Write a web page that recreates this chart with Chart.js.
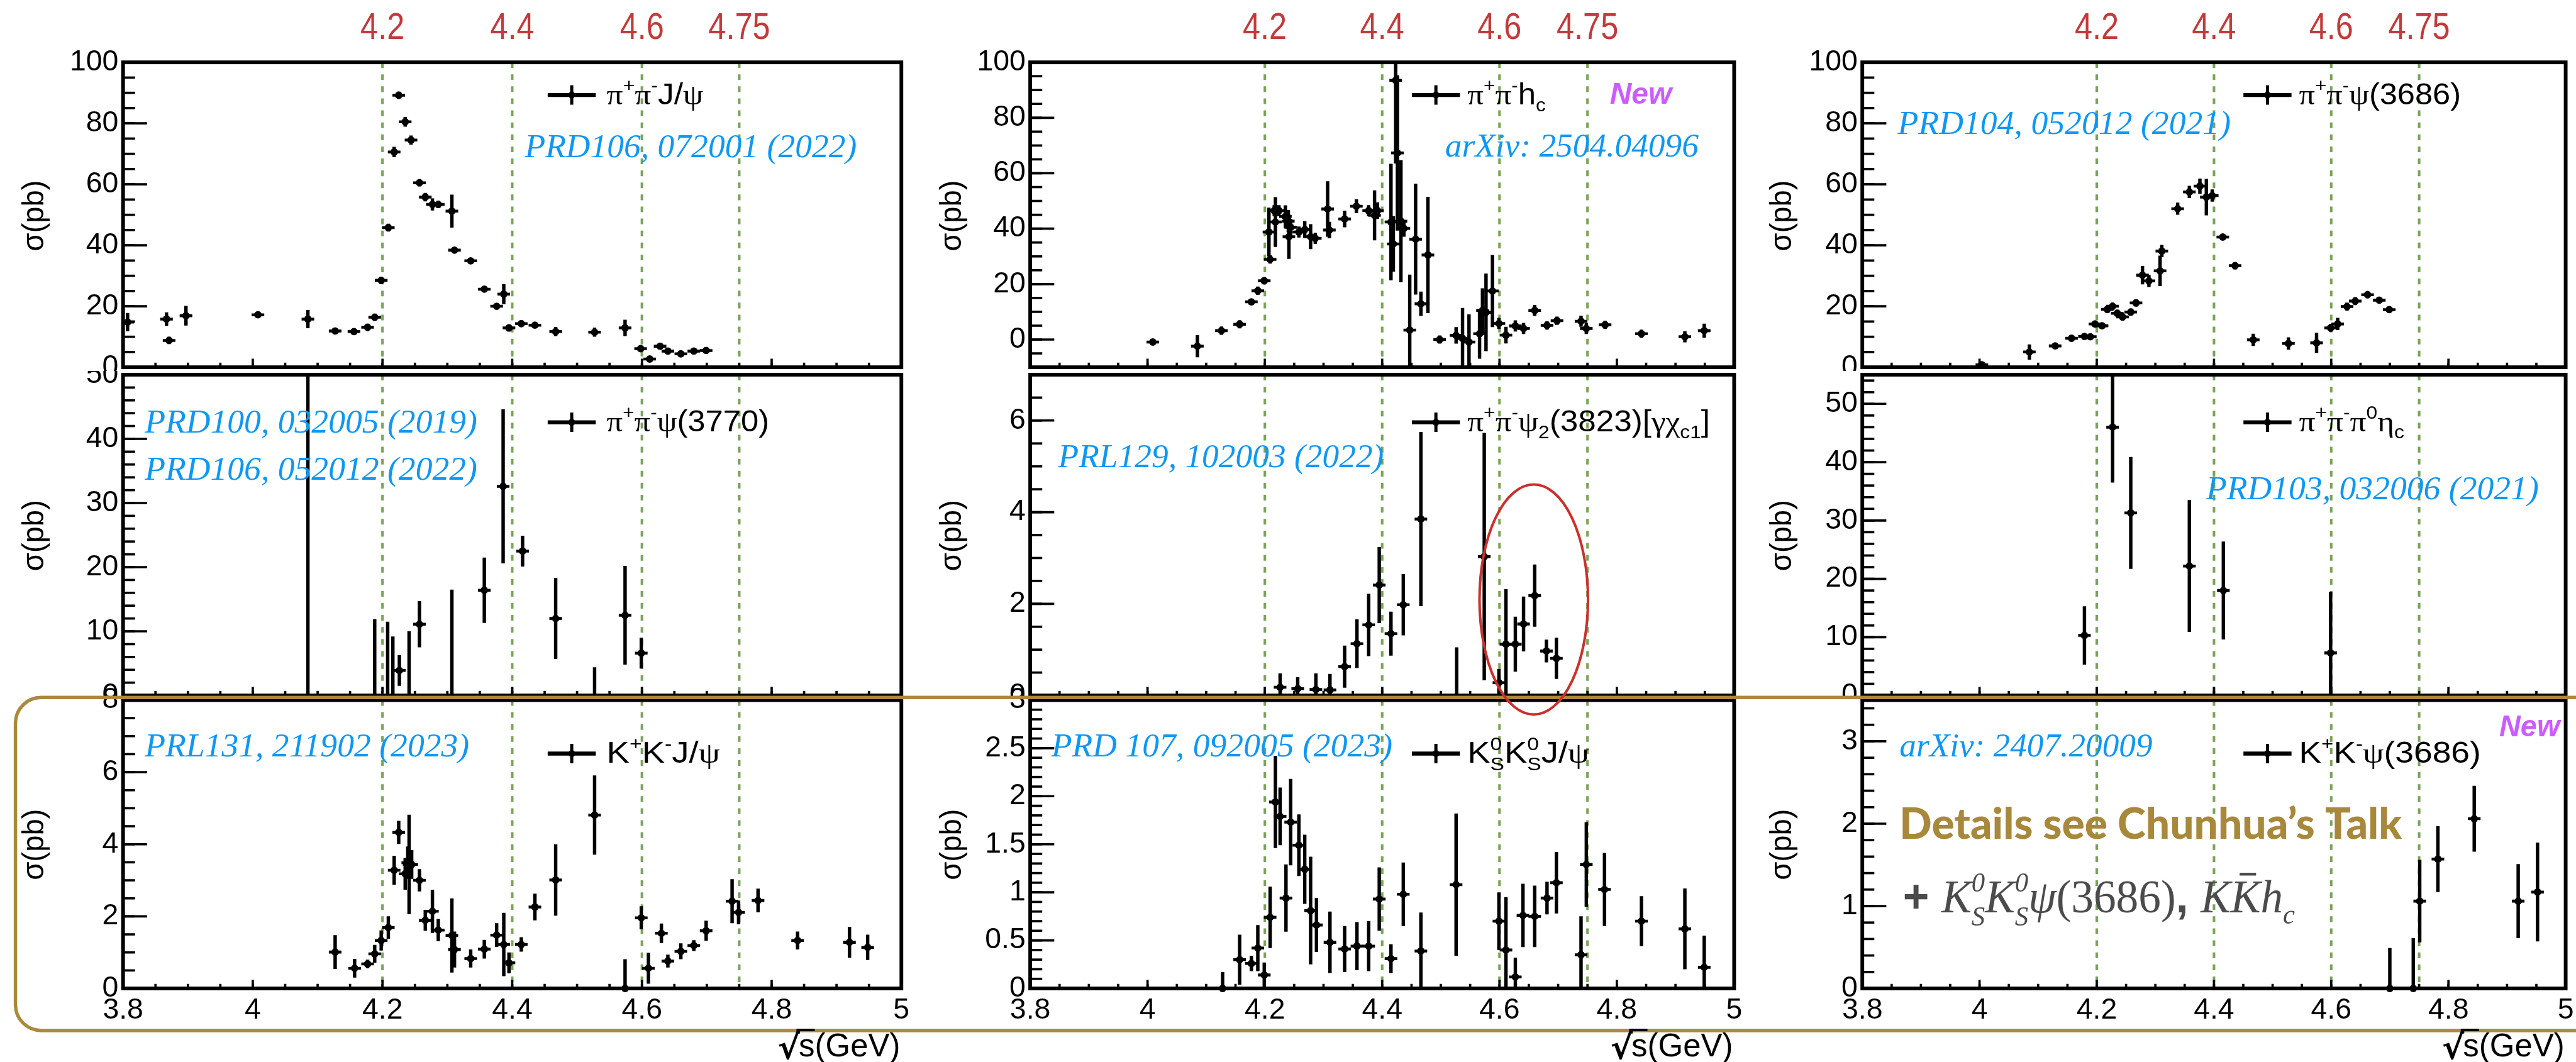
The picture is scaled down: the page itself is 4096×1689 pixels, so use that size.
<!DOCTYPE html>
<html>
<head>
<meta charset="utf-8">
<script src="https://cdn.jsdelivr.net/npm/chart.js@4.4.0/dist/chart.umd.min.js"></script>
<style>
html, body { margin: 0; padding: 0; background: #fff; }
#page { position: relative; width: 4096px; height: 1689px; overflow: hidden; background: #fff; }
#page canvas { position: absolute; }
</style>
</head>
<body>
<div id="page"></div>
<script>
// everything is laid out in reference pixels, then shrunk by S
var S = 0.91;
function px(v) { return v * S; }

// axes
var xTicks = [3.8, 4.0, 4.2, 4.4, 4.6, 4.8, 5.0];
var vLines = [4.2, 4.4, 4.6, 4.75];
var vLineLabels = ['4.2', '4.4', '4.6', '4.75'];
var yTicks100 = [0, 20, 40, 60, 80, 100];
var yTicks50 = [0, 10, 20, 30, 40, 50];
var yTicks7 = [0, 2, 4, 6];
var yTicks8 = [0, 2, 4, 6, 8];
var yTicks3 = [0, 0.5, 1, 1.5, 2, 2.5, 3];
var yTicks35 = [0, 1, 2, 3];

// pi+ pi- J/psi
var jpsiE = [3.807,3.867,3.871,3.897,4.008,4.085,4.127,4.156,4.177,4.188,4.198,4.209,4.218,4.225,4.235,4.244,4.257,4.266,4.277,4.286,4.307,4.311,4.336,4.357,4.376,4.387,4.395,4.414,4.435,4.467,4.527,4.574,4.598,4.612,4.628,4.640,4.660,4.680,4.699];
var jpsiY = [14.8,15.8,8.8,16.9,17.2,15.8,11.9,11.7,13.1,16.4,28.5,45.8,70.6,89.2,80.5,74.5,60.5,55.8,53.4,53.4,51.2,38.4,34.9,25.6,20.0,24.0,12.9,14.3,13.8,11.7,11.5,12.9,6.1,2.7,6.9,5.3,4.4,5.3,5.5];
var jpsiErr = [3,2.2,1.2,3.2,1,3,1,1,1.2,1.2,1.2,1.3,1.7,1.2,1.6,1.5,1.2,1.4,2,1.2,5.4,1,1,1,1,3.3,1.2,1,1,1.5,1.5,2.7,1,1,1,1,1,1,1];

// pi+ pi- h_c
var hcE = [4.009,4.085,4.126,4.157,4.177,4.188,4.199,4.207,4.209,4.216,4.218,4.224,4.235,4.240,4.241,4.244,4.258,4.268,4.278,4.286,4.307,4.310,4.336,4.356,4.377,4.387,4.392,4.415,4.419,4.423,4.426,4.432,4.437,4.447,4.457,4.466,4.478,4.498,4.526,4.537,4.548,4.566,4.571,4.577,4.588,4.599,4.611,4.627,4.641,4.660,4.681,4.698,4.739,4.748,4.780,4.842,4.916,4.949];
var hcY = [-0.9,-2.4,3.2,5.5,13.6,17.6,21.2,38.8,28.9,46.5,42.4,46.5,44.4,42.7,37.1,40.5,38.8,39.7,37.1,36.5,47.1,39.5,43.5,48.1,46.5,44.8,46.5,42.4,34.5,93.5,67.3,42.7,40.1,3.4,36.2,12.9,30.5,0,1.5,0.4,-0.9,2.1,10.5,9.8,17.5,5.8,1.6,4.9,4.0,10.5,5.1,6.8,6.6,4.0,5.3,2.1,1.0,3.2];
var hcErr = [1,4,1.5,1.5,1,1.5,1.3,8.8,1.5,2,9,2,4,4,8,3,2,3,4.5,2,10,3,3,2.5,2,9,3,21,10,30,28,22,3,20,20,4.4,21,1.5,3,11,10,9,8,14,13,2,3,2,2,2,1.5,1.5,2,2,1.5,1.5,2,2.5];

// pi+ pi- psi(3686)
var psipE = [4.004,4.085,4.129,4.157,4.179,4.189,4.197,4.209,4.218,4.227,4.235,4.244,4.258,4.267,4.278,4.289,4.308,4.311,4.338,4.358,4.376,4.387,4.397,4.415,4.436,4.467,4.527,4.575,4.599,4.611,4.627,4.641,4.662,4.682,4.699];
var psipY = [0.8,5,7.0,9.5,10.1,10,14.2,13.6,19.0,20.0,17.7,16.5,18.1,21.1,30.2,28.3,31.6,38.1,52.0,57.5,59.4,55.8,56.3,42.7,33.3,9.0,7.8,8.0,12.9,14.2,19.9,21.7,23.8,22.0,18.9];
var psipErr = [1,2.5,1,1,1,1,1,1,1.2,1.2,1.2,1.2,1.2,1.2,3,2,5,2,2,2,2.5,6,2,1,1.2,2,2,3.3,1.3,2,1.3,1.3,1.2,1,1];

// pi+ pi- psi(3770)
var p3770E = [4.085,4.188,4.208,4.216,4.226,4.241,4.257,4.307,4.357,4.386,4.416,4.467,4.527,4.574,4.599];
var p3770Y = [-5,-2,-2,-2,3.9,-2,11.1,-2,16.4,32.6,22.5,12.0,-2,12.5,6.6];
var p3770Err = [60,13.9,13.5,11.2,2.4,12,3.6,18.5,5.1,12,2.4,6.3,6.4,7.7,2.4];

// pi+ pi- psi2(3823)
var p3823E = [4.226,4.256,4.287,4.311,4.336,4.357,4.377,4.395,4.415,4.436,4.466,4.527,4.574,4.599,4.611,4.627,4.641,4.660,4.680,4.697];
var p3823Y = [0.18,0.15,0.13,0.12,0.63,1.13,1.54,2.41,1.35,1.98,3.85,-0.2,3.03,0.28,1.12,1.12,1.56,2.18,0.97,0.81];
var p3823Err = [0.3,0.25,0.35,0.35,0.46,0.53,0.68,0.83,0.48,0.67,1.9,1.25,2.7,0.3,1.2,0.6,0.6,0.68,0.25,0.45];

// pi+ pi- pi0 eta_c
var etacE = [4.179,4.227,4.258,4.358,4.416,4.599];
var etacY = [10.3,46.0,31.3,22.2,18.0,7.3];
var etacErr = [5,9.5,9.6,11.3,8.4,10.5];

// K+ K- J/psi
var kkjE = [4.127,4.157,4.177,4.188,4.198,4.209,4.218,4.225,4.235,4.239,4.241,4.245,4.257,4.266,4.277,4.286,4.307,4.311,4.336,4.357,4.376,4.387,4.395,4.414,4.435,4.467,4.527,4.574,4.599,4.610,4.630,4.640,4.660,4.680,4.699,4.739,4.749,4.779,4.840,4.920,4.948];
var kkjY = [1.01,0.56,0.68,0.96,1.33,1.69,3.28,4.33,3.18,3.49,3.44,3.44,3.0,1.89,2.14,1.62,1.47,1.08,0.83,1.09,1.48,1.22,0.71,1.22,2.26,3.01,4.81,0,1.96,0.56,1.53,0.76,1.03,1.19,1.60,2.42,2.11,2.44,1.33,1.28,1.14];
var kkjErr = [0.47,0.26,0.12,0.25,0.28,0.31,0.4,0.32,0.44,0.45,1.38,0.4,0.31,0.29,0.6,0.31,1.03,0.5,0.25,0.26,0.33,0.88,0.29,0.2,0.37,0.99,1.1,0.81,0.32,0.43,0.27,0.18,0.22,0.15,0.28,0.61,0.33,0.33,0.25,0.43,0.35];

// K0S K0S J/psi
var ksjE = [4.128,4.157,4.177,4.188,4.199,4.209,4.218,4.226,4.236,4.244,4.258,4.268,4.278,4.288,4.311,4.336,4.357,4.377,4.395,4.415,4.436,4.466,4.526,4.599,4.611,4.627,4.640,4.660,4.681,4.697,4.739,4.748,4.779,4.842,4.916,4.949];
var ksjY = [0,0.30,0.26,0.42,0.14,0.74,1.94,1.79,0.94,1.73,1.49,1.24,0.81,0.66,0.48,0.41,0.44,0.44,0.93,0.31,0.98,0.39,1.08,0.70,0.40,0.12,0.76,0.75,0.94,1.10,0.35,1.29,1.03,0.70,0.62,0.22];
var ksjErr = [0.17,0.26,0.08,0.24,0.13,0.32,0.48,0.3,0.35,0.45,0.32,0.36,0.56,0.28,0.32,0.24,0.25,0.26,0.33,0.15,0.33,0.4,0.74,0.3,0.55,0.2,0.33,0.32,0.17,0.32,0.4,0.44,0.38,0.26,0.42,0.33];

// K+ K- psi(3686)
var kkpE = [4.700,4.740,4.751,4.782,4.844,4.919,4.952];
var kkpY = [0,0,1.06,1.57,2.06,1.06,1.17];
var kkpErr = [0.49,0.61,0.5,0.4,0.4,0.45,0.6];

var SANS = '"Liberation Sans", Arial, sans-serif';
var SERIF = '"Liberation Serif", "DejaVu Serif", serif';
var DASH = '#7aa35a';
var BLUE = '#0f97f2';

// canvas box / frame edges in reference pixels
var COLS = [
    {cl: 0, pl: 215, pr: 1575, cr: 1590},
    {cl: 1590, pl: 1800, pr: 3030, cr: 3045},
    {cl: 3045, pl: 3254, pr: 4483, cr: 4501}
];
var ROWS = [
    {ct: 60, pt: 108.5, pb: 647, cb: 648},
    {ct: 648, pt: 653, pb: 1220, cb: 1222},
    {ct: 1195, pt: 1224, pb: 1728, cb: 1800}
];

var panels = [
    {col: 0, row: 0, e: jpsiE, y: jpsiY, err: jpsiErr, min: 0, max: 100, ticks: yTicks100, minor: 5},
    {col: 1, row: 0, e: hcE, y: hcY, err: hcErr, min: -10, max: 100, ticks: yTicks100, minor: 5},
    {col: 2, row: 0, e: psipE, y: psipY, err: psipErr, min: 0, max: 100, ticks: yTicks100, minor: 5},
    {col: 0, row: 1, e: p3770E, y: p3770Y, err: p3770Err, min: 0, max: 50, ticks: yTicks50, minor: 2},
    {col: 1, row: 1, e: p3823E, y: p3823Y, err: p3823Err, min: 0, max: 7, ticks: yTicks7, minor: 0.5},
    {col: 2, row: 1, e: etacE, y: etacY, err: etacErr, min: 0, max: 55, ticks: yTicks50, minor: 2},
    {col: 0, row: 2, e: kkjE, y: kkjY, err: kkjErr, min: 0, max: 8, ticks: yTicks8, minor: 0.5},
    {col: 1, row: 2, e: ksjE, y: ksjY, err: ksjErr, min: 0, max: 3, ticks: yTicks3, minor: 0.1},
    {col: 2, row: 2, e: kkpE, y: kkpY, err: kkpErr, min: 0, max: 3.5, ticks: yTicks35, minor: 0.2}
];

function fmt(v) { return String(Math.round(v * 100) / 100); }

function line(ctx, x1, y1, x2, y2) {
    ctx.beginPath(); ctx.moveTo(x1, y1); ctx.lineTo(x2, y2); ctx.stroke();
}

// ROOT look: dashed markers, error bars, frame with inward ticks
var rootPanel = {
    id: 'rootPanel',
    beforeDatasetsDraw: function(chart, args, opts) {
        var ctx = chart.ctx, a = chart.chartArea, x = chart.scales.x, y = chart.scales.y;
        ctx.save();
        ctx.beginPath(); ctx.rect(a.left, a.top, a.right - a.left, a.bottom - a.top); ctx.clip();
        ctx.strokeStyle = DASH; ctx.lineWidth = px(4.5); ctx.setLineDash([px(10), px(11)]);
        vLines.forEach(function(v) {
            var X = x.getPixelForValue(v);
            line(ctx, X, a.top, X, a.bottom);
        });
        ctx.setLineDash([]);
        ctx.strokeStyle = '#000';
        var ds = chart.data.datasets[0];
        ds.data.forEach(function(d, i) {
            var X = x.getPixelForValue(d.x), Y = y.getPixelForValue(d.y), e = ds.errs[i];
            ctx.lineWidth = px(6);
            line(ctx, X, y.getPixelForValue(d.y - e), X, y.getPixelForValue(d.y + e));
            ctx.lineWidth = px(5);
            line(ctx, X - px(11), Y, X + px(11), Y);
        });
        ctx.restore();
    },
    afterDraw: function(chart, args, opts) {
        var ctx = chart.ctx, a = chart.chartArea, x = chart.scales.x, y = chart.scales.y;
        ctx.save();
        ctx.strokeStyle = '#000';
        ctx.lineWidth = px(4);
        var v, Y, X;
        for (v = opts.min; v <= opts.max + 1e-9; v += opts.minor) {
            Y = y.getPixelForValue(v);
            line(ctx, a.left, Y, a.left + px(21), Y);
        }
        opts.ticks.forEach(function(t) {
            Y = y.getPixelForValue(t);
            line(ctx, a.left, Y, a.left + px(42), Y);
        });
        for (v = 3.8; v <= 5.0001; v += 0.05) {
            X = x.getPixelForValue(v);
            line(ctx, X, a.bottom, X, a.bottom - px(8));
        }
        xTicks.forEach(function(t) {
            X = x.getPixelForValue(t);
            line(ctx, X, a.bottom, X, a.bottom - px(15));
        });
        ctx.lineWidth = px(6.5);
        ctx.strokeRect(a.left, a.top, a.right - a.left, a.bottom - a.top);
        ctx.restore();
    }
};

var page = document.getElementById('page');
var charts = [];

panels.forEach(function(p) {
    var c = COLS[p.col], r = ROWS[p.row];
    var cv = document.createElement('canvas');
    var w = Math.round(px(c.cr - c.cl)), h = Math.round(px(r.cb - r.ct));
    cv.width = w; cv.height = h;
    cv.style.left = px(c.cl) + 'px';
    cv.style.top = px(r.ct) + 'px';
    cv.style.width = w + 'px';
    cv.style.height = h + 'px';
    page.appendChild(cv);
    var yW = px(c.pl - c.cl), xH = h - px(r.pb - r.ct);
    var tickFont = {family: SANS, size: px(51)};
    var chart = new Chart(cv, {
        type: 'scatter',
        data: {
            datasets: [{
                data: p.e.map(function(e, i) { return {x: e, y: p.y[i]}; }),
                errs: p.err,
                pointRadius: px(6.5),
                pointBackgroundColor: '#000',
                pointBorderWidth: 0,
                showLine: false,
                clip: px(8)
            }]
        },
        options: {
            responsive: false,
            animation: false,
            devicePixelRatio: 1,
            layout: {padding: {left: 0, top: px(r.pt - r.ct), right: w - px(c.pr - c.cl), bottom: 0}},
            plugins: {
                legend: {display: false},
                tooltip: {enabled: false},
                rootPanel: {min: p.min, max: p.max, ticks: p.ticks, minor: p.minor}
            },
            scales: {
                x: {
                    type: 'linear', min: 3.8, max: 5.0, position: 'bottom',
                    grid: {display: false, drawTicks: false},
                    border: {display: false},
                    ticks: {display: p.row === 2, padding: px(8.5), font: tickFont, color: '#000',
                            autoSkip: false, maxRotation: 0, callback: fmt},
                    afterBuildTicks: function(s) { s.ticks = xTicks.map(function(v) { return {value: v}; }); },
                    afterFit: function(s) { s.height = xH; s.paddingLeft = 0; s.paddingRight = 0; }
                },
                y: {
                    type: 'linear', min: p.min, max: p.max,
                    grid: {display: false, drawTicks: false},
                    border: {display: false},
                    ticks: {padding: px(8), font: tickFont, color: '#000', autoSkip: false, callback: fmt},
                    afterBuildTicks: function(s) { s.ticks = p.ticks.map(function(v) { return {value: v}; }); },
                    afterFit: function(s) { s.width = yW; s.paddingTop = 0; s.paddingBottom = 0; }
                }
            }
        },
        plugins: [rootPanel]
    });
    charts.push({chart: chart, ox: px(c.cl), oy: px(r.ct), p: p});
});

// ---------- overlay: labels, legends, notes ----------
var ov = document.createElement('canvas');
ov.width = 4096; ov.height = 1689;
ov.style.left = '0px'; ov.style.top = '0px'; ov.style.zIndex = 10;
page.appendChild(ov);
var ctx = ov.getContext('2d');

function segFont(s, B) { return (s.st || '') + ' ' + ((s.k || 1) * B) + 'px ' + s.fam; }
function R(t) { return {t: t, fam: SANS}; }
function G(t) { return {t: t, fam: SERIF}; }
function UP(t) { return {t: t, fam: SANS, k: 0.62, dy: -0.42}; }
function DN(t) { return {t: t, fam: SANS, k: 0.62, dy: 0.24}; }
function UD(a, b) { return {t: a, t2: b, fam: SANS, k: 0.62, dy: -0.42, dy2: 0.26}; }
function I(t) { return {t: t, fam: SERIF, st: 'italic'}; }
function BS(t) { return {t: t, fam: SANS, st: 'bold'}; }

// draw a run of segments starting at x on baseline y, squeezed/stretched to width tw
function drawRich(segs, x, y, B, tw, color) {
    ctx.save();
    var ws = segs.map(function(s) {
        ctx.font = segFont(s, B);
        var w = ctx.measureText(s.t).width;
        if (s.t2) w = Math.max(w, ctx.measureText(s.t2).width);
        return w;
    });
    var tot = ws.reduce(function(a, b) { return a + b; }, 0);
    ctx.translate(x, y);
    if (tw) ctx.scale(tw / tot, 1);
    ctx.fillStyle = color; ctx.strokeStyle = color;
    ctx.textAlign = 'left'; ctx.textBaseline = 'alphabetic';
    var cx = 0;
    segs.forEach(function(s, i) {
        ctx.font = segFont(s, B);
        ctx.fillText(s.t, cx, (s.dy || 0) * B);
        if (s.t2) ctx.fillText(s.t2, cx, (s.dy2 || 0) * B);
        if (s.bar) {
            ctx.lineWidth = B * 0.06;
            line(ctx, cx + ws[i] * 0.3, -B * 0.82, cx + ws[i] * 0.85, -B * 0.82);
        }
        cx += ws[i];
    });
    ctx.restore();
}

// gold frame around the bottom row
ctx.save();
ctx.strokeStyle = '#a98a3c'; ctx.lineWidth = px(6);
ctx.beginPath();
ctx.roundRect(px(27), px(1219), px(4560 - 27), px(1801 - 1219), px(45));
ctx.stroke();
ctx.restore();

// red labels over each column (tall, narrow)
ctx.save();
ctx.fillStyle = '#c23a3a';
ctx.font = px(66) + 'px ' + SANS;
ctx.textAlign = 'center'; ctx.textBaseline = 'middle';
[0, 1, 2].forEach(function(i) {
    var ch = charts[i];
    vLines.forEach(function(v, j) {
        ctx.save();
        ctx.translate(ch.ox + ch.chart.scales.x.getPixelForValue(v), px(50));
        ctx.scale(0.84, 1);
        ctx.fillText(vLineLabels[j], 0, 0);
        ctx.restore();
    });
});
ctx.restore();

// red ellipse around the high-energy psi2(3823) points
(function() {
    var ch = charts[4], xs = ch.chart.scales.x, ys = ch.chart.scales.y;
    var cx = ch.ox + xs.getPixelForValue(4.6585), cy = ch.oy + ys.getPixelForValue(2.09);
    var rx = Math.abs(xs.getPixelForValue(4.751) - xs.getPixelForValue(4.6585));
    var ry = Math.abs(ys.getPixelForValue(4.6) - ys.getPixelForValue(2.09));
    ctx.save();
    ctx.strokeStyle = '#c8322d'; ctx.lineWidth = px(4.5);
    ctx.beginPath(); ctx.ellipse(cx, cy, rx, ry, 0, 0, Math.PI * 2); ctx.stroke();
    ctx.restore();
})();

// legends
var legends = [
    {segs: [G('π'), UP('+'), G('π'), UP('-'), R('J/'), G('ψ')], x1: 1060, x2: 1229},
    {segs: [G('π'), UP('+'), G('π'), UP('-'), R('h'), DN('c')], x1: 2564, x2: 2701},
    {segs: [G('π'), UP('+'), G('π'), UP('-'), G('ψ'), R('(3686)')], x1: 4017, x2: 4300},
    {segs: [G('π'), UP('+'), G('π'), UP('-'), G('ψ'), R('(3770)')], x1: 1060, x2: 1344},
    {segs: [G('π'), UP('+'), G('π'), UP('-'), G('ψ'), DN('2'), R('(3823)['), G('γχ'), DN('c1'), R(']')], x1: 2564, x2: 2988},
    {segs: [G('π'), UP('+'), G('π'), UP('-'), G('π'), UP('0'), G('η'), DN('c')], x1: 4017, x2: 4201},
    {segs: [R('K'), UP('+'), R('K'), UP('-'), R('J/'), G('ψ')], x1: 1060, x2: 1258},
    {segs: [R('K'), UD('0', 'S'), R('K'), UD('0', 'S'), R('J/'), G('ψ')], x1: 2564, x2: 2777},
    {segs: [R('K'), UP('+'), R('K'), UP('-'), G('ψ'), R('(3686)')], x1: 4017, x2: 4335}
];
var legCross = [999, 2509, 3962];
var legRowY = [166, 738, 1317];
legends.forEach(function(L, i) {
    var cx = px(legCross[i % 3]), cy = px(legRowY[Math.floor(i / 3)]);
    ctx.save();
    ctx.strokeStyle = '#000'; ctx.fillStyle = '#000';
    ctx.lineWidth = px(7); line(ctx, cx - px(42), cy, cx + px(42), cy);
    ctx.lineWidth = px(5.5); line(ctx, cx, cy - px(17), cx, cy + px(17));
    ctx.beginPath(); ctx.arc(cx, cy, px(6), 0, Math.PI * 2); ctx.fill();
    ctx.restore();
    drawRich(L.segs, px(L.x1), cy + px(16), px(52), px(L.x2 - L.x1), '#000');
});

// publication references
var refs = [
    ['PRD106, 072001 (2022)', 917, 1497, 260],
    ['arXiv: 2504.04096', 2525, 2968, 259],
    ['PRD104, 052012 (2021)', 3316, 3898, 219],
    ['PRD100, 032005 (2019)', 253, 834, 741],
    ['PRD106, 052012 (2022)', 253, 834, 824],
    ['PRL129, 102003 (2022)', 1849, 2418, 801],
    ['PRD103, 032006 (2021)', 3855, 4436, 857],
    ['PRL131, 211902 (2023)', 253, 820, 1307],
    ['PRD 107, 092005 (2023)', 1837, 2433, 1307],
    ['arXiv: 2407.20009', 3319, 3761, 1307]
];
refs.forEach(function(r) {
    drawRich([I(r[0])], px(r[1]), px(r[3] + 15), px(58), px(r[2] - r[1]), BLUE);
});

// "New" tags
drawRich([{t: 'New', fam: SANS, st: 'italic bold'}], px(2813), px(181), px(53), px(108), '#cc5cff');
drawRich([{t: 'New', fam: SANS, st: 'italic bold'}], px(4367), px(1287), px(53), px(106), '#cc5cff');

// talk note
drawRich([{t: 'Details see Chunhua\u2019s Talk', fam: 'Lato, "Open Sans", sans-serif', st: '900'}],
         px(3319), px(1466), px(76), px(4197 - 3319), '#a8883a');
drawRich([BS('+ '), I('K'), {t: '0', t2: 'S', fam: SERIF, st: 'italic', k: 0.6, dy: -0.45, dy2: 0.28},
          I('K'), {t: '0', t2: 'S', fam: SERIF, st: 'italic', k: 0.6, dy: -0.45, dy2: 0.28},
          I('ψ'), G('(3686)'), BS(', '), I('K'), {t: 'K', fam: SERIF, st: 'italic', bar: true},
          I('h'), {t: 'c', fam: SERIF, st: 'italic', k: 0.6, dy: 0.24}],
         px(3325), px(1595), px(82), px(4010 - 3325), '#4b4b4b');

// y titles
var titleX = [62, 1665, 3115];
var titleY = [377, 936, 1476];
ctx.save();
ctx.fillStyle = '#000';
ctx.font = px(52) + 'px ' + SANS;
ctx.textAlign = 'center'; ctx.textBaseline = 'middle';
titleY.forEach(function(ty) {
    titleX.forEach(function(tx) {
        ctx.save();
        ctx.translate(px(tx), px(ty));
        ctx.rotate(-Math.PI / 2);
        ctx.fillText('σ(pb)', 0, 0);
        ctx.restore();
    });
});
ctx.restore();

// x titles
COLS.forEach(function(c) {
    var right = px(c.pr - 2), base = px(1846);
    ctx.save();
    ctx.fillStyle = '#000';
    ctx.font = px(56) + 'px ' + SANS;
    ctx.textAlign = 'right'; ctx.textBaseline = 'alphabetic';
    ctx.fillText('s(GeV)', right, base);
    var w = ctx.measureText('s(GeV)').width;
    var sw = ctx.measureText('s').width;
    var left = right - w;
    ctx.font = 'bold ' + px(58) + 'px "DejaVu Sans", sans-serif';
    ctx.fillText('\u221a', left + px(2), base + px(4));
    ctx.strokeStyle = '#000'; ctx.lineWidth = px(4);
    line(ctx, left - px(4), base - px(46), left + sw, base - px(46));
    ctx.restore();
});
</script>
</body>
</html>
